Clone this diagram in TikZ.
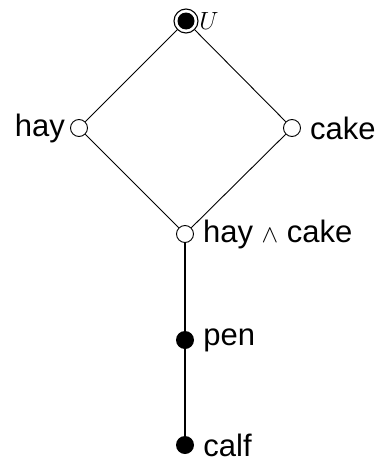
\documentclass[tikz,border=0pt]{standalone}
\usepackage{fontspec}
\setmainfont{Liberation Sans}
\begin{document}
\begin{tikzpicture}[x=1pt,y=-1pt,
  open/.style={circle,draw,fill=white,inner sep=0pt,minimum size=17pt,line width=0.9pt},
  solid dot/.style={circle,fill=black,inner sep=0pt,minimum size=18pt},
  lbl/.style={font=\fontsize{31}{36}\selectfont,inner sep=9pt},
  thin edge/.style={line width=0.9pt},
  thick edge/.style={line width=2pt}]
\useasboundingbox (0,0) rectangle (379,463);
% lattice elements
\node[circle,draw,line width=1.1pt,inner sep=0pt,minimum size=24pt] (top) at (186,21) {};
\node[solid dot,minimum size=17pt] (topin) at (186,21) {};
\node[open] (hay) at (79,128) {};
\node[open] (cake) at (292,128) {};
\node[open] (meet) at (185,234) {};
\node[solid dot] (pen) at (185,340) {};
\node[solid dot] (calf) at (185,445) {};
% covering relations
\draw[thin edge] (top) -- (hay);
\draw[thin edge] (top) -- (cake);
\draw[thin edge] (hay) -- (meet);
\draw[thin edge] (cake) -- (meet);
\draw[thick edge] (meet) -- (pen);
\draw[thick edge] (pen) -- (calf);
% labels
\node[lbl,anchor=west,inner sep=0.5pt,font=\fontsize{32}{36}\selectfont] (tl) at (top.east) {$U$};
\node[lbl,anchor=east,inner sep=5pt] (hl) at (hay.west) {hay};
\node[lbl,anchor=west] (cl) at (cake.east) {cake};
\node[lbl,anchor=west] (ml) at (meet.east) {hay\ $\wedge$\ cake};
\node[lbl,anchor=west] (pl) at (pen.east) {pen};
\node[lbl,anchor=west] (fl) at (calf.east) {calf};
\end{tikzpicture}
\end{document}
